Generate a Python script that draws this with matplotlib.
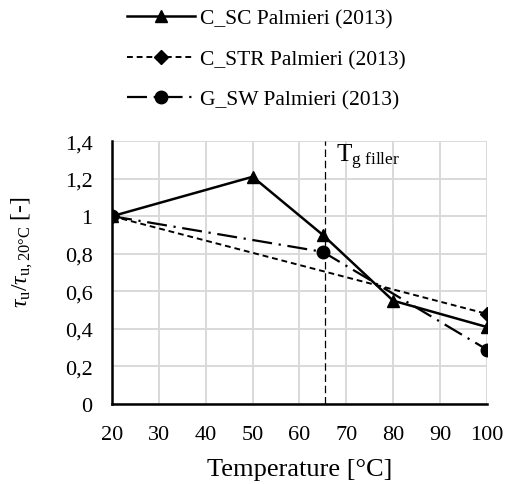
import numpy as np
import matplotlib
matplotlib.use('Agg')
from matplotlib import pyplot as plt
from matplotlib.ticker import FuncFormatter, MultipleLocator

plt.rcParams['font.family'] = 'Liberation Serif'
plt.rcParams['mathtext.fontset'] = 'custom'
plt.rcParams['mathtext.rm'] = 'Liberation Serif'
plt.rcParams['mathtext.it'] = 'Liberation Serif:italic'

# data
sc_t = [20, 50, 65, 80, 100]
sc_v = [1.0, 1.21, 0.90, 0.55, 0.41]
str_t = [20, 100]
str_v = [1.0, 0.48]
sw_t = [20, 65, 100]
sw_v = [1.0, 0.81, 0.29]
tg_filler = 65.5

fig = plt.figure(figsize=(5.05, 4.85), dpi=100)
ax = fig.add_axes([0.222, 0.165, 0.742, 0.542])

l1, = ax.plot(sc_t, sc_v, color='black', lw=1.8, marker='^', ms=8.5,
              label='C_SC Palmieri (2013)')
l2, = ax.plot(str_t, str_v, color='black', lw=1.4, ls=(0, (3, 2)), marker='D', ms=7,
              label='C_STR Palmieri (2013)')
l3, = ax.plot(sw_t, sw_v, color='black', lw=1.6, ls=(0, (9, 3, 1, 3)), marker='o', ms=9,
              label='G_SW Palmieri (2013)')

ax.axvline(tg_filler, color='black', lw=0.9, ls=(0, (6, 3)))
ax.text(tg_filler + 2.2, 1.395, r'T$_\mathrm{g\ filler}$', fontsize=18, va='top')

ax.set_xlim(20, 100)
ax.set_ylim(0, 1.4)
ax.xaxis.set_major_locator(MultipleLocator(10))
ax.yaxis.set_major_locator(MultipleLocator(0.2))
ax.yaxis.set_major_formatter(FuncFormatter(
    lambda v, p: ('%g' % round(v, 1)).replace('.', ',')))
ax.grid(True, color='#d9d9d9', lw=1.4)
ax.set_axisbelow(True)
for s in ['top', 'right']:
    ax.spines[s].set_visible(False)
for s in ['left', 'bottom']:
    ax.spines[s].set_linewidth(1.8)
ax.tick_params(length=0, labelsize=16)
ax.tick_params(axis='x', pad=15)
ax.tick_params(axis='y', pad=14)
ax.set_xlabel('Temperature [°C]', fontsize=19, labelpad=10)
fig.text(22 / 505, 1 - 252 / 485, r'$\tau_\mathrm{u}/\tau_\mathrm{u,20°C}$ [-]',
         fontsize=17, rotation=90, ha='center', va='center')

fig.legend(handles=[l1, l2, l3], loc='upper left', bbox_to_anchor=(127 / 505, 0.98),
           frameon=False, fontsize=15.5, handlelength=3.15, handletextpad=0.25,
           labelspacing=0.95, borderpad=0, borderaxespad=0)

plt.savefig('out.png', dpi=100)
